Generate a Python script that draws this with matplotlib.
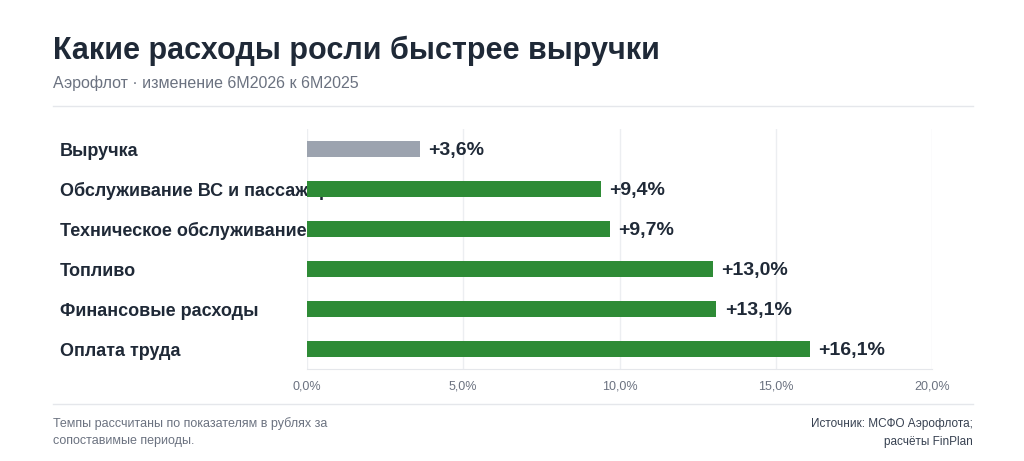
import matplotlib
matplotlib.use("Agg")
import matplotlib.pyplot as plt
import matplotlib.transforms as mtransforms
from matplotlib.lines import Line2D

plt.rcParams["font.family"] = ["Liberation Sans", "DejaVu Sans"]

# Data
categories = ["Выручка", "Обслуживание ВС и пассажиров", "Техническое обслуживание",
              "Топливо", "Финансовые расходы", "Оплата труда"]
values = [3.6, 9.4, 9.7, 13.0, 13.1, 16.1]
bar_colors = ["#9ca3af", "#2e8b36", "#2e8b36", "#2e8b36", "#2e8b36", "#2e8b36"]
x_ticks = [0, 5, 10, 15, 20]

dark = "#1f2937"
muted = "#6b7280"

fig = plt.figure(figsize=(10.24, 4.61), dpi=100)
ax = fig.add_axes([307 / 1024, 1 - 369 / 461, 625 / 1024, 240 / 461])

y = list(range(len(categories)))
ax.barh(y, values, height=0.4, color=bar_colors, zorder=3)
ax.set_ylim(len(categories) - 0.5, -0.5)
ax.set_xlim(0, 20)

# category names sit left of the plot, beneath the bars
label_tr = mtransforms.blended_transform_factory(fig.transFigure, ax.transData)
for yi, name in zip(y, categories):
    ax.text(60 / 1024, yi, name, transform=label_tr,
            ha="left", va="center_baseline", fontsize=13, fontweight="bold", color=dark,
            zorder=1, clip_on=False)

for yi, v in zip(y, values):
    ax.annotate(f"+{v:.1f}%".replace(".", ","), (v, yi), xytext=(6, 0), textcoords="offset points",
                ha="left", va="center_baseline", fontsize=14, fontweight="bold", color=dark, zorder=4)

ax.set_xticks(x_ticks)
ax.set_xticklabels([f"{t:.1f}%".replace(".", ",") for t in x_ticks], fontsize=9, color=muted)
ax.tick_params(axis="x", length=0, pad=8)
ax.set_yticks([])
ax.grid(axis="x", color="#eceef1", linewidth=1, zorder=0)
for side in ["top", "left", "right"]:
    ax.spines[side].set_visible(False)
ax.spines["bottom"].set_color("#e5e7eb")

fig.text(53 / 1024, 1 - 51 / 461, "Какие расходы росли быстрее выручки", fontsize=22,
         fontweight="bold", color=dark, va="center")
fig.text(53 / 1024, 1 - 83 / 461, "Аэрофлот · изменение 6М2026 к 6М2025", fontsize=11.5,
         color=muted, va="center")

for yy in [106, 404]:
    fig.add_artist(Line2D([53 / 1024, 973 / 1024], [1 - yy / 461, 1 - yy / 461],
                          transform=fig.transFigure, color="#e5e7eb", linewidth=1))

fig.text(53 / 1024, 1 - 432 / 461, "Темпы рассчитаны по показателям в рублях за\nсопоставимые периоды.",
         fontsize=9, color=muted, va="center", linespacing=1.5)
fig.text(973 / 1024, 1 - 433 / 461, "Источник: МСФО Аэрофлота;\nрасчёты FinPlan",
         fontsize=8.5, color="#374151", va="center", ha="right", linespacing=1.6)

fig.savefig("out.png", dpi=100, facecolor="white")
